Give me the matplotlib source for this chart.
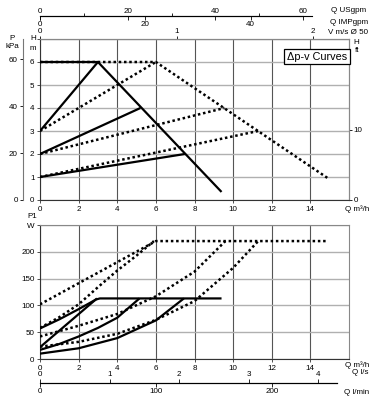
import matplotlib
matplotlib.use("Agg")
import matplotlib.pyplot as plt

# === Data ===
# head curves, H [m] vs Q [m3/h]
H_SOLID_MAX_Q = [0, 3.0, 9.4]
H_SOLID_MAX_H = [6, 6, 0.35]
H_SOLID_DPV3_Q = [0, 3.0]
H_SOLID_DPV3_H = [3, 6]
H_SOLID_DPV2_Q = [0, 5.2]
H_SOLID_DPV2_H = [2, 4]
H_SOLID_DPV1_Q = [0, 7.5]
H_SOLID_DPV1_H = [1, 2]

H_DOT_MAX_Q = [0, 6.0, 14.9]
H_DOT_MAX_H = [6, 6, 0.95]
H_DOT_DPV3_Q = [0, 6.0]
H_DOT_DPV3_H = [3, 6]
H_DOT_DPV2_Q = [0, 9.55]
H_DOT_DPV2_H = [2, 4]
H_DOT_DPV1_Q = [0, 11.3]
H_DOT_DPV1_H = [1, 3]

# power curves, P1 [W] vs Q [m3/h]
P_SOLID_MAX_Q = [0, 1, 2, 2.9, 3.1, 9.4]
P_SOLID_MAX_P = [57, 74, 93, 111, 113, 113]
P_SOLID_B_Q = [0, 2.95]
P_SOLID_B_P = [22, 113]
P_SOLID_C_Q = [0, 1, 2, 3, 4, 5.15]
P_SOLID_C_P = [17, 28, 42, 58, 77, 113]
P_SOLID_D_Q = [0, 2, 4, 6, 7.45]
P_SOLID_D_P = [10, 20, 39, 72, 113]

P_DOT_MAX_Q = [0, 6.0, 14.9]
P_DOT_MAX_P = [102, 220, 220]
P_DOT_B_Q = [0, 1, 2, 3, 4, 5, 5.9]
P_DOT_B_P = [58, 78, 102, 134, 165, 193, 220]
P_DOT_C_Q = [0, 2, 4, 6, 8, 9.6]
P_DOT_C_P = [42, 62, 84, 117, 163, 220]
P_DOT_D_Q = [0, 2, 4, 6, 8, 10, 11.3]
P_DOT_D_P = [23, 32, 47, 73, 108, 170, 220]

Q_TICKS = [0, 2, 4, 6, 8, 10, 12, 14]
H_TICKS = [0, 1, 2, 3, 4, 5, 6]
P1_TICKS = [0, 50, 100, 150, 200]

# unit conversions
KPA_PER_M = 9.81
FT_PER_M = 1 / 0.3048
USGPM_PER_M3H = 4.40287
IMPGPM_PER_M3H = 3.66615
M3H_PER_MS = 7.0686   # 1 m/s in DN50 pipe
M3H_PER_LS = 3.6
M3H_PER_LMIN = 0.06

W, HGT = 370, 400
FONT = ['Liberation Sans', 'DejaVu Sans']
NARROW = ['Liberation Sans Narrow', 'Liberation Sans', 'DejaVu Sans']
plt.rcParams['font.family'] = FONT
FS = 5.8
SOLID = dict(color='black', lw=1.6, solid_capstyle='butt', zorder=4)
DOT = dict(color='black', lw=1.8, linestyle=(0, (1, 1.1)), dash_capstyle='butt', zorder=3)


def fx(px):
    return px / W


def fy(py):
    return 1 - py / HGT


def fig_text(fig, px, py, s, **kw):
    kw.setdefault('fontsize', FS)
    kw.setdefault('va', 'center')
    fig.text(fx(px), fy(py), s, **kw)


def style_chart(ax, ymax):
    ax.set_xlim(0, 16)
    ax.set_ylim(0, ymax)
    ax.set_xticks(Q_TICKS)
    ax.xaxis.grid(True, color='#555555', lw=0.8, zorder=1)
    ax.yaxis.grid(True, color='#b0b0b0', lw=1.0, zorder=1)
    ax.set_axisbelow(True)
    for s in ['top', 'right']:
        ax.spines[s].set_color('#888888')
    for s in ['left', 'bottom']:
        ax.spines[s].set_color('#333333')
        ax.spines[s].set_linewidth(0.8)
    ax.tick_params(labelsize=FS, length=2.5, width=0.6, pad=1.5, color='#333333')


def scale_axis(fig, py, xmax, ticks, top, bounds=None, minor=None, direction='out'):
    a = fig.add_axes([fx(40), fy(py), fx(349) - fx(40), 1e-5])
    a.set_xlim(0, xmax)
    a.set_yticks([])
    a.patch.set_visible(False)
    for s in a.spines.values():
        s.set_visible(False)
    side = 'top' if top else 'bottom'
    a.spines[side].set_visible(True)
    a.spines[side].set_linewidth(0.8)
    if bounds is not None:
        a.spines[side].set_bounds(0, bounds)
    if top:
        a.xaxis.tick_top()
    a.set_xticks(ticks)
    if minor:
        a.set_xticks(minor, minor=True)
    a.tick_params(labelsize=FS, length=3, width=0.6, pad=0.8, direction=direction)
    a.tick_params(which='minor', length=2, width=0.6, direction='out')
    return a


def main():
    fig = plt.figure(figsize=(W / 100, HGT / 100), dpi=100)

    # ---- head chart ----
    ax1 = fig.add_axes([fx(40), fy(200), fx(349) - fx(40), fy(39) - fy(200)])
    style_chart(ax1, 7)
    ax1.set_yticks(list(range(8)))
    ax1.set_yticklabels([str(t) for t in H_TICKS] + [''])

    ax1.plot(H_DOT_MAX_Q, H_DOT_MAX_H, **DOT)
    ax1.plot(H_DOT_DPV3_Q, H_DOT_DPV3_H, **DOT)
    ax1.plot(H_DOT_DPV2_Q, H_DOT_DPV2_H, **DOT)
    ax1.plot(H_DOT_DPV1_Q, H_DOT_DPV1_H, **DOT)
    ax1.plot(H_SOLID_MAX_Q, H_SOLID_MAX_H, **SOLID)
    ax1.plot(H_SOLID_DPV3_Q, H_SOLID_DPV3_H, **SOLID)
    ax1.plot(H_SOLID_DPV2_Q, H_SOLID_DPV2_H, **SOLID)
    ax1.plot(H_SOLID_DPV1_Q, H_SOLID_DPV1_H, **SOLID)

    kpa = ax1.secondary_yaxis(-0.056, functions=(lambda h: h * KPA_PER_M, lambda p: p / KPA_PER_M))
    kpa.set_yticks([0, 20, 40, 60])
    kpa.spines['left'].set_color('#777777')
    kpa.tick_params(labelsize=FS, length=2.5, width=0.6, pad=1)

    ft = ax1.secondary_yaxis('right', functions=(lambda h: h * FT_PER_M, lambda f: f / FT_PER_M))
    ft.set_yticks([0, 10])
    ft.spines['right'].set_color('#888888')
    ft.tick_params(labelsize=FS, length=2.5, width=0.6, pad=1)

    vel = ax1.secondary_xaxis('top', functions=(lambda q: q / M3H_PER_MS, lambda v: v * M3H_PER_MS))
    vel.set_xticks([0, 1, 2])
    vel.spines['top'].set_color('#888888')
    vel.tick_params(labelsize=FS, length=2.5, width=0.6, pad=0.5)

    ax1.text(0.896, 0.891, 'Δp-v Curves', transform=ax1.transAxes, ha='center', va='center',
             fontsize=7.8, family=NARROW,
             bbox=dict(boxstyle='square,pad=0.25', fc='white', ec='black', lw=0.9), zorder=6)

    # top unit scales
    scale_axis(fig, 16, 16 * USGPM_PER_M3H, [0, 20, 40, 60], True, bounds=62,
               minor=[10, 30, 50], direction='in')
    scale_axis(fig, 16, 16 * IMPGPM_PER_M3H, [0, 20, 40], False, bounds=50)

    fig_text(fig, 366, 11, 'Q USgpm', ha='right', family=NARROW)
    fig_text(fig, 368, 23, 'Q IMPgpm', ha='right', family=NARROW)
    fig_text(fig, 368, 33, 'V m/s Ø 50', ha='right', family=NARROW)
    fig_text(fig, 12, 39, 'P', ha='center')
    fig_text(fig, 12, 47, 'kPa', ha='center')
    fig_text(fig, 33, 39, 'H', ha='center')
    fig_text(fig, 33, 48, 'm', ha='center')
    fig_text(fig, 356, 43, 'H', ha='center')
    fig_text(fig, 357, 50, 'ft', ha='center')
    fig_text(fig, 369, 209, 'Q m³/h', ha='right', family=NARROW)

    # ---- power chart ----
    ax2 = fig.add_axes([fx(40), fy(359), fx(349) - fx(40), fy(225) - fy(359)])
    style_chart(ax2, 250)
    ax2.set_yticks(P1_TICKS + [250])
    ax2.set_yticklabels([str(t) for t in P1_TICKS] + ['W'])

    ax2.plot(P_DOT_MAX_Q, P_DOT_MAX_P, **DOT)
    ax2.plot(P_DOT_B_Q, P_DOT_B_P, **DOT)
    ax2.plot(P_DOT_C_Q, P_DOT_C_P, **DOT)
    ax2.plot(P_DOT_D_Q, P_DOT_D_P, **DOT)
    ax2.plot(P_SOLID_MAX_Q, P_SOLID_MAX_P, **SOLID)
    ax2.plot(P_SOLID_B_Q, P_SOLID_B_P, **SOLID)
    ax2.plot(P_SOLID_C_Q, P_SOLID_C_P, **SOLID)
    ax2.plot(P_SOLID_D_Q, P_SOLID_D_P, **SOLID)

    fig_text(fig, 32, 216, 'P1', ha='center')
    fig_text(fig, 369, 365, 'Q m³/h', ha='right', family=NARROW)

    # bottom unit scales
    scale_axis(fig, 383, 16 / M3H_PER_LS, [0, 1, 2, 3, 4], True, bounds=4.27)
    scale_axis(fig, 383, 16 / M3H_PER_LMIN, [0, 100, 200], False, bounds=256)
    fig_text(fig, 352, 373, 'Q l/s', family=NARROW)
    fig_text(fig, 369, 393, 'Q l/min', ha='right', family=NARROW)

    fig.savefig('out.png', dpi=100)


if __name__ == "__main__":
    main()
